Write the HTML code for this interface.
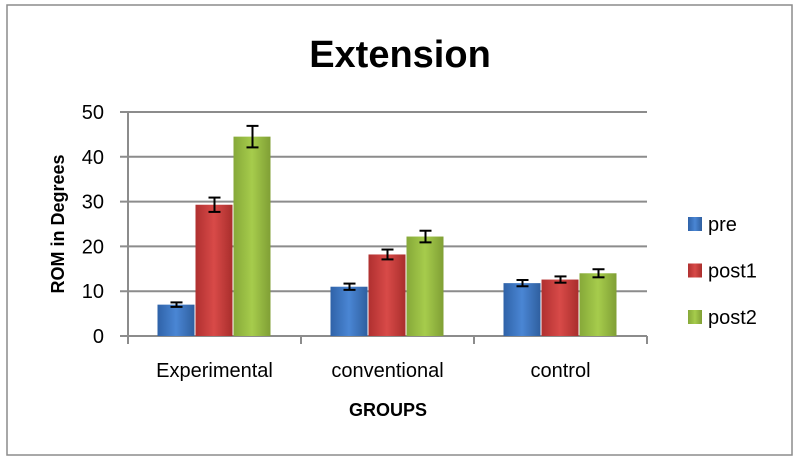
<!DOCTYPE html>
<html><head><meta charset="utf-8"><style>
body{margin:0;background:#fff}
svg text{font-family:"Liberation Sans",sans-serif}
</style></head><body>
<svg width="800" height="461" viewBox="0 0 800 461" xmlns="http://www.w3.org/2000/svg">
<defs>
<linearGradient id="gpre" x1="0" x2="1"><stop offset="0" stop-color="#2f62a8"/><stop offset="0.5" stop-color="#4a86d4"/><stop offset="1" stop-color="#2f5f9f"/></linearGradient>
<linearGradient id="gpost1" x1="0" x2="1"><stop offset="0" stop-color="#b03030"/><stop offset="0.5" stop-color="#d84a48"/><stop offset="1" stop-color="#a92e2c"/></linearGradient>
<linearGradient id="gpost2" x1="0" x2="1"><stop offset="0" stop-color="#86a839"/><stop offset="0.5" stop-color="#a6cc4c"/><stop offset="1" stop-color="#809f35"/></linearGradient>
</defs>
<rect x="7" y="5" width="785" height="450" fill="#fff" stroke="#8c8c8c" stroke-width="1.5"/>
<text x="400" y="67" text-anchor="middle" font-size="38" font-weight="bold">Extension</text>
<g id="grid"></g>
<g id="bars"></g>
<g id="axes"></g>
<text transform="translate(64,224) rotate(-90)" text-anchor="middle" font-size="18" font-weight="bold">ROM in Degrees</text>
<text x="388" y="416" text-anchor="middle" font-size="18" font-weight="bold">GROUPS</text>
<g id="legend"></g>
</svg>
<script>
const categories=["Experimental","conventional","control"];
const seriesNames=["pre","post1","post2"];
const pre=[7,11,11.8];
const post1=[29.3,18.2,12.6];
const post2=[44.5,22.2,14];
const preErr=[0.5,0.7,0.7];
const post1Err=[1.6,1.1,0.7];
const post2Err=[2.4,1.3,0.9];
const yTicks=[0,10,20,30,40,50];
const NS="http://www.w3.org/2000/svg";
const X0=128,X1=647,Y0=336,Y1=112,YMAX=50;
const y=v=>Y0-(v/YMAX)*(Y0-Y1);
const cw=(X1-X0)/categories.length;
const bw=38;
function mk(tag,attrs,parent){const e=document.createElementNS(NS,tag);for(const k in attrs)e.setAttribute(k,attrs[k]);parent.appendChild(e);return e;}
const grid=document.getElementById('grid'),bars=document.getElementById('bars'),axes=document.getElementById('axes'),legend=document.getElementById('legend');
yTicks.forEach(t=>{
  const l=mk('line',{x1:120,x2:X1,y1:y(t),y2:y(t),stroke:'#8c8c8c','stroke-width':2},grid);
  
  
  const tx=mk('text',{x:104,y:y(t)+7,'text-anchor':'end','font-size':20},axes);
  tx.textContent=t;
  
  
});
const ax=mk('line',{x1:X0,x2:X0,y1:Y1,y2:Y0+8,stroke:'#8c8c8c','stroke-width':2},axes);


for(let i=0;i<=categories.length;i++){
  const tk=mk('line',{x1:X0+i*cw,x2:X0+i*cw,y1:Y0,y2:Y0+8,stroke:'#8c8c8c','stroke-width':2},axes);
  
  
}
const all=[pre,post1,post2],errs=[preErr,post1Err,post2Err];
categories.forEach((c,i)=>{
  const cx=X0+i*cw+cw/2;
  const lb=mk('text',{x:cx,y:377,'text-anchor':'middle','font-size':20},axes);
  lb.textContent=c;
  
  
  all.forEach((s,j)=>{
    const bx=cx-1.5*bw+j*bw;
    const r=mk('rect',{x:bx,y:y(s[i]),width:bw-1,height:Y0-y(s[i]),fill:'url(#g'+seriesNames[j]+')'},bars);
    
    
    const mx=bx+bw/2,e=errs[j][i];
    const g=mk('g',{stroke:'#000','stroke-width':2},bars);
    
    
    mk('line',{x1:mx,x2:mx,y1:y(s[i]+e),y2:y(s[i]-e)},g);
    mk('line',{x1:mx-6,x2:mx+6,y1:y(s[i]+e),y2:y(s[i]+e)},g);
    mk('line',{x1:mx-6,x2:mx+6,y1:y(s[i]-e),y2:y(s[i]-e)},g);
  });
});
seriesNames.forEach((n,j)=>{
  const ly=224+j*46.5;
  const g=mk('g',{},legend);
  
  
  mk('rect',{x:688,y:ly-7,width:14,height:14,fill:'url(#g'+n+')'},g);
  const t=mk('text',{x:708,y:ly+7,'font-size':20},g);
  t.textContent=n;
});
</script>
</body></html>
